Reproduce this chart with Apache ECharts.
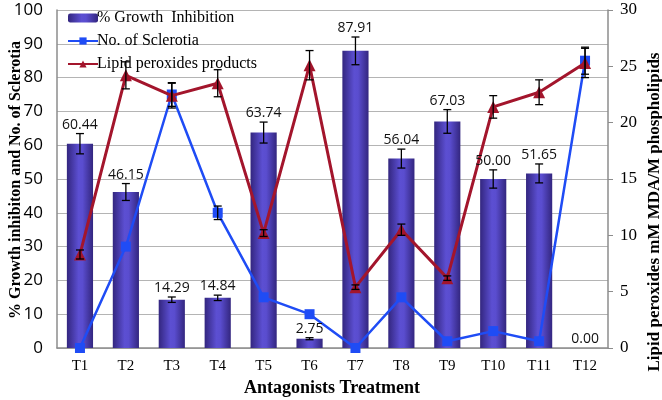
<!DOCTYPE html>
<html>
<head>
<meta charset="utf-8">
<script src="https://cdn.jsdelivr.net/npm/echarts@6/dist/echarts.min.js"></script>
<style>
  html, body { margin: 0; padding: 0; background: #fff; }
  #chart { width: 662px; height: 400px; }
</style>
</head>
<body>
<div id="chart"></div>
<script>
// Данные
const treatments = ['T1', 'T2', 'T3', 'T4', 'T5', 'T6', 'T7', 'T8', 'T9', 'T10', 'T11', 'T12'];
const growthInhibition = [60.44, 46.15, 14.29, 14.84, 63.74, 2.75, 87.91, 56.04, 67.03, 50.00, 51.65, 0.00];
const growthErr = [3, 2.5, 0.8, 0.8, 3.1, 0.3, 4.1, 2.8, 3.5, 2.7, 2.8, 0];
const sclerotia = [0, 30, 75, 40, 15, 10, 0, 15, 2, 5, 2, 85];
const sclerotiaErr = [0, 0, 3.5, 2, 0, 0, 0, 0, 0, 0, 0, 4];
const lipid = [8.3, 24.2, 22.4, 23.5, 10.2, 25.1, 5.4, 10.5, 6.2, 21.4, 22.7, 25.3];
const lipidErr = [0.4, 1.2, 1.1, 1.2, 0.3, 1.3, 0.2, 0.5, 0.2, 1.0, 1.1, 1.3];

const serif = '"Liberation Serif", "DejaVu Serif", serif';
const sans = '"Open Sans", "Liberation Sans", sans-serif';

// усы ошибок: [индекс, значение, ошибка]
function errData(vals, errs) {
  return vals.map((v, i) => [i, v, errs[i]]);
}

function errRender(withLabel) {
  return function (params, api) {
    const i = api.value(0), v = api.value(1), e = api.value(2);
    const top = api.coord([i, v + e]);
    const bot = api.coord([i, v - e]);
    const half = 4;
    const children = [];
    if (e > 0) {
      const st = { stroke: '#000', lineWidth: 1.3 };
      children.push(
        { type: 'line', shape: { x1: top[0], y1: top[1], x2: bot[0], y2: bot[1] }, style: st },
        { type: 'line', shape: { x1: top[0] - half, y1: top[1], x2: top[0] + half, y2: top[1] }, style: st },
        { type: 'line', shape: { x1: bot[0] - half, y1: bot[1], x2: bot[0] + half, y2: bot[1] }, style: st }
      );
    }
    if (withLabel) {
      children.push({
        type: 'text',
        x: top[0], y: top[1] - 2,
        style: {
          text: v.toFixed(2), fill: '#111', font: '14px ' + sans,
          align: 'center', verticalAlign: 'bottom',
        },
      });
    }
    return { type: 'group', children };
  };
}

const chart = echarts.init(document.getElementById('chart'));

chart.setOption({
  animation: false,
  backgroundColor: '#fff',
  grid: { left: 57, right: 54, top: 10, bottom: 52 },
  legend: {
    left: 62, top: 5, orient: 'vertical', itemGap: 7,
    itemWidth: 30, itemHeight: 9,
    textStyle: { fontFamily: serif, fontSize: 16, color: '#000', padding: [0, 0, 0, -6] },
    data: ['% Growth  Inhibition', 'No. of Sclerotia', 'Lipid peroxides products'],
  },
  xAxis: {
    type: 'category',
    data: treatments,
    axisLine: { lineStyle: { color: '#8c8c8c', width: 1.5 } },
    axisTick: { show: false },
    axisLabel: { color: '#000', fontFamily: serif, fontSize: 15, margin: 11 },
  },
  yAxis: [
    {
      type: 'value', min: 0, max: 100, interval: 10,
      axisLine: { show: true, lineStyle: { color: '#8c8c8c', width: 1.5 } },
      axisTick: { show: false },
      axisLabel: { color: '#000', fontFamily: sans, fontSize: 17, margin: 14 },
      splitLine: { lineStyle: { color: '#b4b4b4', width: 1.2 } },
    },
    {
      type: 'value', min: 0, max: 30, interval: 5,
      axisLine: { show: true, lineStyle: { color: '#8c8c8c', width: 1.5 } },
      axisTick: { show: true, length: 5, lineStyle: { color: '#8c8c8c' } },
      axisLabel: { color: '#000', fontFamily: serif, fontSize: 17, margin: 12 },
      splitLine: { show: false },
    },
  ],
  series: [
    {
      name: '% Growth  Inhibition',
      type: 'bar',
      data: growthInhibition,
      barWidth: '57%',
      itemStyle: {
        color: new echarts.graphic.LinearGradient(0, 0, 1, 0, [
          { offset: 0, color: '#33267f' },
          { offset: 0.45, color: '#5c4fd2' },
          { offset: 0.6, color: '#5a4dcf' },
          { offset: 1, color: '#33267f' },
        ]),
      },
      z: 1,
    },
    {
      name: 'No. of Sclerotia',
      type: 'line',
      yAxisIndex: 0,
      data: sclerotia,
      symbol: 'rect',
      symbolSize: 10,
      lineStyle: { color: '#1f4cf5', width: 2.5 },
      itemStyle: { color: '#1f4cf5' },
      z: 3,
    },
    {
      name: 'Lipid peroxides products',
      type: 'line',
      yAxisIndex: 1,
      data: lipid,
      symbol: 'triangle',
      symbolSize: 12,
      lineStyle: { color: '#a3152c', width: 3 },
      itemStyle: { color: '#a3152c' },
      z: 4,
    },
    {
      type: 'custom', yAxisIndex: 0, z: 5,
      renderItem: errRender(true),
      data: errData(growthInhibition, growthErr),
    },
    {
      type: 'custom', yAxisIndex: 0, z: 5,
      renderItem: errRender(false),
      data: errData(sclerotia, sclerotiaErr),
    },
    {
      type: 'custom', yAxisIndex: 1, z: 5,
      renderItem: errRender(false),
      data: errData(lipid, lipidErr),
    },
  ],
  graphic: [
    {
      type: 'text', x: 16, y: 180, rotation: Math.PI / 2,
      style: {
        text: '% Growth inhibiton and No. of Sclerotia', fill: '#000',
        font: 'bold 16px ' + serif, align: 'center', verticalAlign: 'middle',
      },
    },
    {
      type: 'text', x: 655, y: 212, rotation: Math.PI / 2,
      style: {
        text: 'Lipid peroxides mM MDA/M phospholipids', fill: '#000',
        font: 'bold 17px ' + serif, align: 'center', verticalAlign: 'middle',
      },
    },
    {
      type: 'text', x: 332, y: 388,
      style: {
        text: 'Antagonists Treatment', fill: '#000',
        font: 'bold 18px ' + serif, align: 'center', verticalAlign: 'middle',
      },
    },
  ],
});
</script>
</body>
</html>
